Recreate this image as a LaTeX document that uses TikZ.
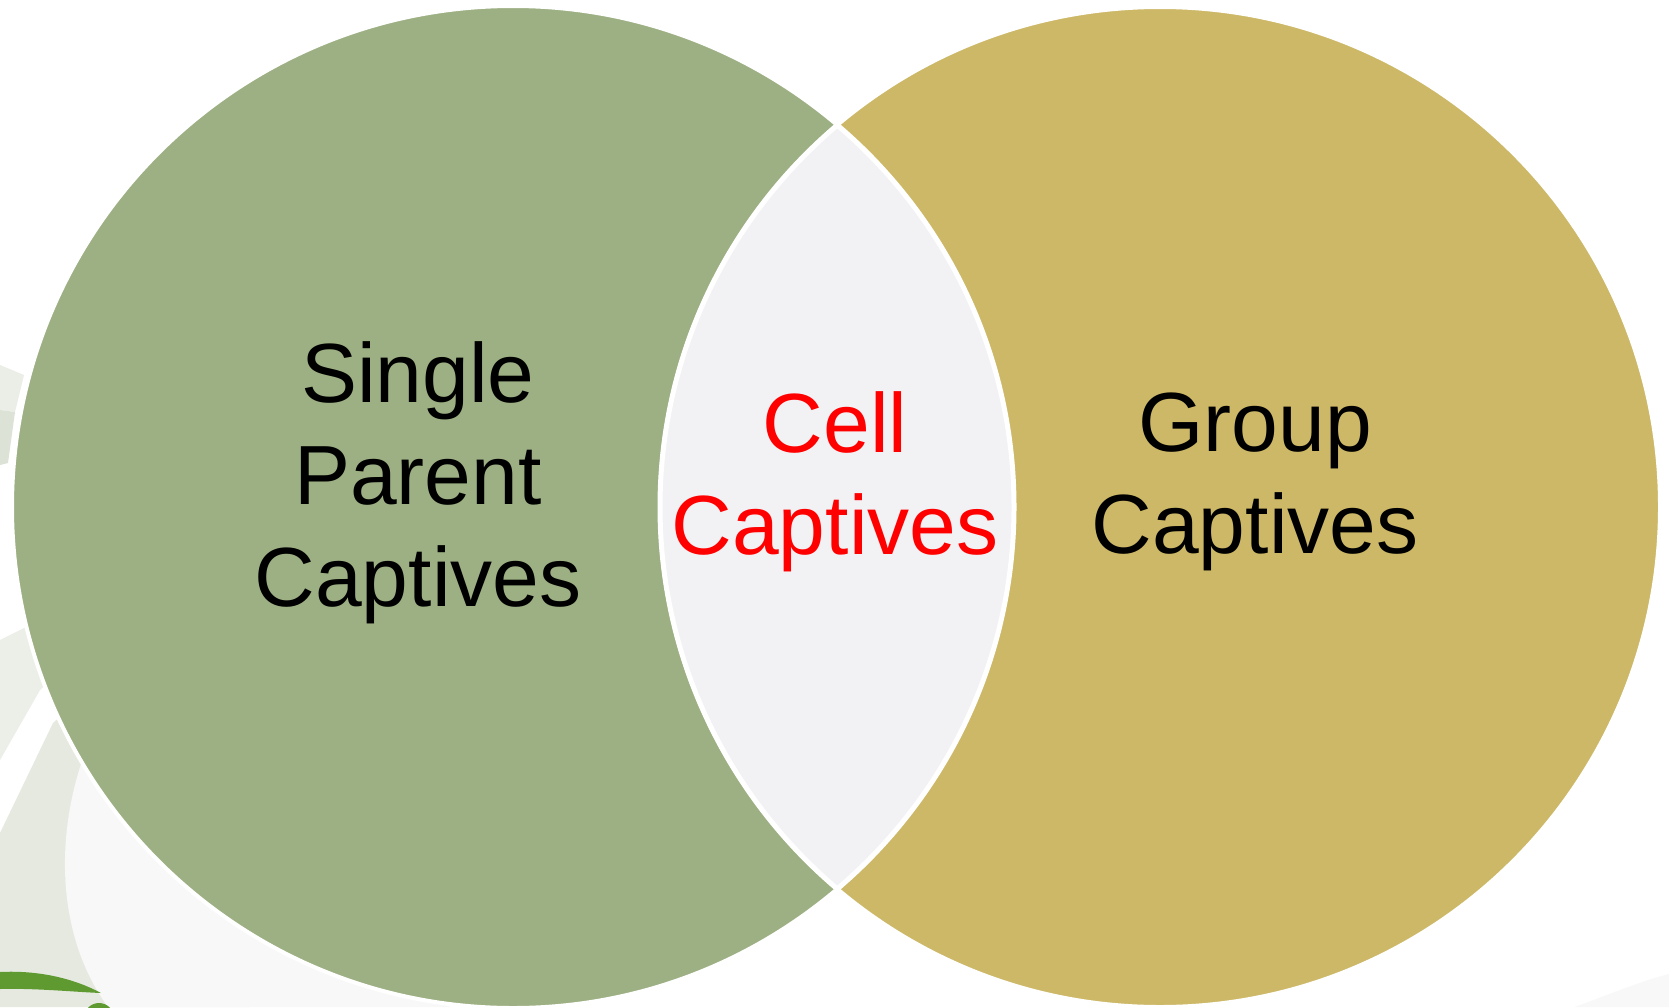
\documentclass[tikz,border=0pt]{standalone}
\usepackage{fontspec}
\setmainfont{Liberation Sans}
\definecolor{leftgreen}{HTML}{9DB083}
\definecolor{rightgold}{HTML}{CDB867}
\definecolor{lensgray}{HTML}{F2F2F5}
\definecolor{decoA}{HTML}{EBEEE6}
\definecolor{decoB}{HTML}{DCE3D6}
\definecolor{decoC}{HTML}{ECEEE8}
\definecolor{decoD}{HTML}{E6E9E0}
\definecolor{decoE}{HTML}{F8F8F8}
\definecolor{dkgreen}{HTML}{5E9A30}
\tikzset{
  vennlabel/.style={align=center, inner sep=0pt, font=\fontsize{84}{102}\selectfont},
  setcircle/.style={circle, inner sep=0pt, draw=white, line width=4pt},
}
\begin{document}
\begin{tikzpicture}[x=1pt,y=-1pt]
\useasboundingbox (0,0) rectangle (1669,1007);
\fill[white] (0,0) rectangle (1669,1007);
% background decorations
\fill[decoA] (0,365) -- (24,375) -- (15,412) -- (0,410) -- cycle;
\fill[decoB] (0,410) -- (15,412) -- (8,463) -- (0,465) -- cycle;
\fill[decoC] (0,640) -- (60,610) -- (90,640) -- (40,690) -- (0,760) -- cycle;
\fill[decoD] (0,833) -- (53,723) -- (100,680) -- (250,800) -- (250,1007) -- (0,1007) -- cycle;
\fill[decoE] (92,735) .. controls (55,820) and (52,930) .. (108,1007) -- (450,1007) -- (300,780) -- cycle;
\fill[dkgreen] (0,972) .. controls (40,970) and (75,979) .. (101,993) .. controls (75,992) and (35,988) .. (0,989) -- cycle;
\fill[dkgreen] (99,1018) circle[radius=15pt];
\fill[decoD] (101,1020) circle[radius=10pt];
\fill[decoE] (1575,1007) .. controls (1615,992) and (1645,980) .. (1669,974) -- (1669,1007) -- cycle;
% circles
\node[setcircle, minimum size=1002pt, fill=leftgreen] (L) at (513,507) {};
\node[setcircle, minimum size=1000pt, fill=rightgold] (R) at (1160,507) {};
% lens
\begin{scope}
  \clip (513,507) circle[radius=501pt];
  \fill[lensgray] (1160,507) circle[radius=500pt];
  \draw[white, line width=5pt] (1160,507) circle[radius=500pt];
\end{scope}
\begin{scope}
  \clip (1160,507) circle[radius=500pt];
  \draw[white, line width=5pt] (513,507) circle[radius=501pt];
\end{scope}
% labels
\node[vennlabel] (single) at (418,483) {Single\\Parent\\Captives};
\node[vennlabel, text=red] (cell) at (835,482) {Cell\\Captives};
\node[vennlabel] (group) at (1255,482) {Group\\Captives};
\end{tikzpicture}
\end{document}
